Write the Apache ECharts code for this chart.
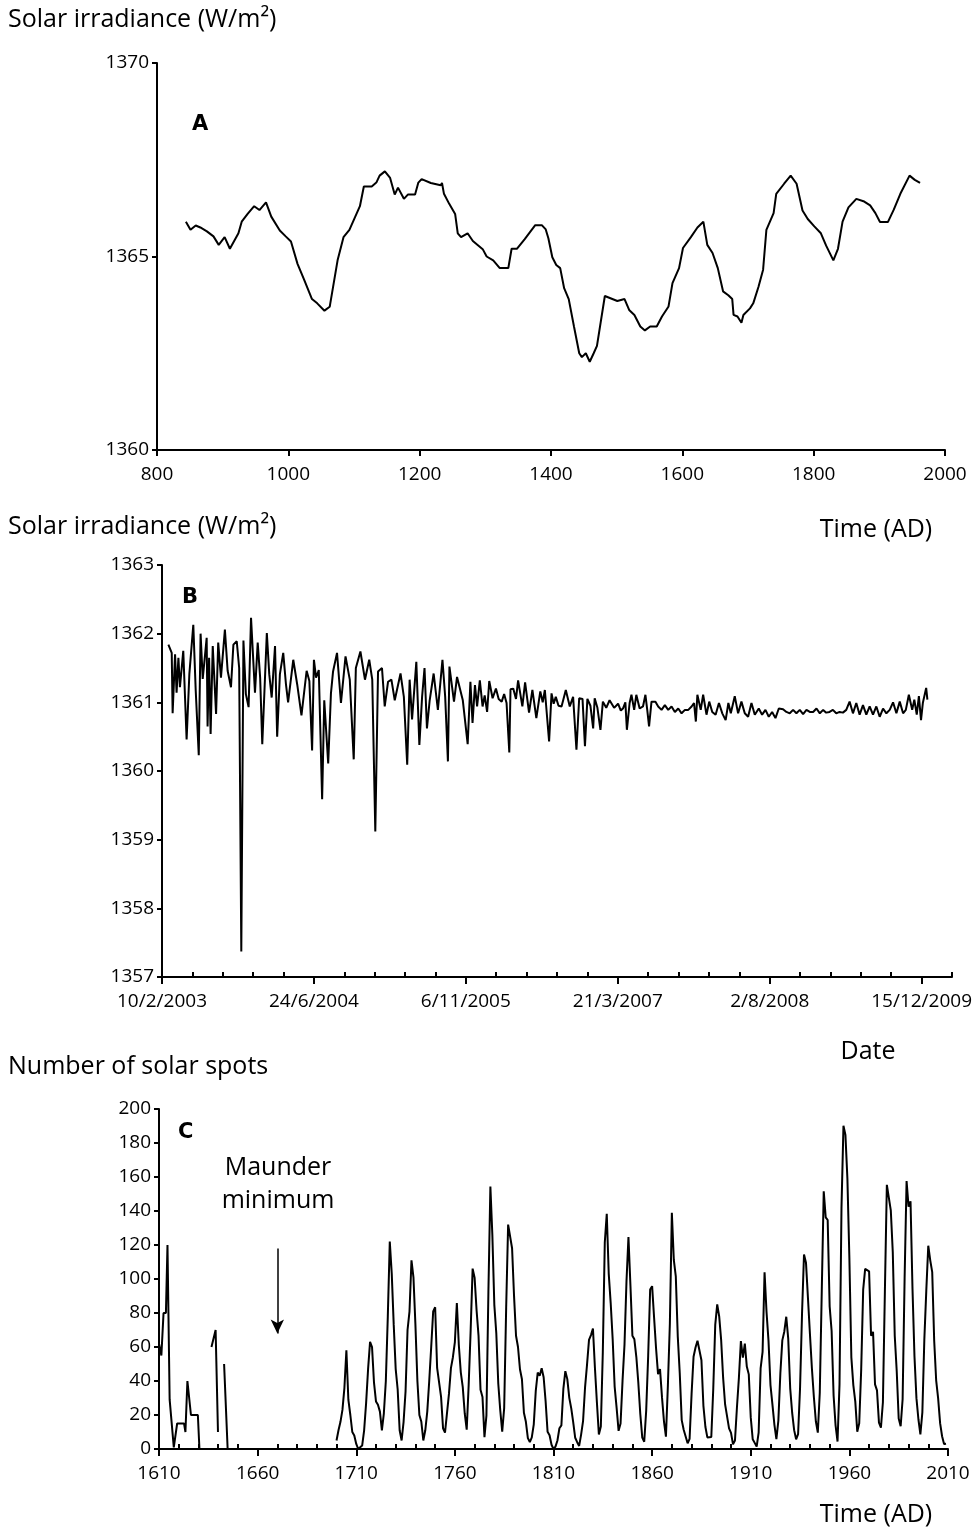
<!DOCTYPE html>
<html><head><meta charset="utf-8">
<script src="https://cdn.jsdelivr.net/npm/echarts@6/dist/echarts.min.js"></script>
<style>html,body{margin:0;padding:0;background:#fff}#c{width:978px;height:1537px}</style>
</head><body><div id="c"></div>
<script>
// ---------- Panel A: reconstructed solar irradiance (AD) ----------
const aYears = [844,851,859,866,876,886,894,903,911,924,929,938,948,956,966,974,987,996,1004,1014,1024,1036,1044,1055,1063,1075,1084,1093,1109,1115,1127,1134,1139,1147,1155,1162,1167,1176,1182,1193,1198,1203,1217,1232,1234,1237,1245,1254,1258,1263,1273,1281,1296,1302,1312,1322,1335,1340,1348,1360,1376,1386,1392,1396,1402,1408,1414,1420,1427,1435,1443,1447,1453,1459,1465,1470,1482,1501,1512,1519,1527,1536,1543,1551,1561,1569,1579,1585,1595,1601,1613,1623,1632,1638,1646,1654,1662,1670,1676,1678,1684,1690,1693,1703,1708,1716,1723,1728,1739,1743,1755,1765,1774,1783,1791,1801,1811,1819,1830,1837,1844,1853,1865,1877,1886,1894,1901,1913,1922,1932,1946,1954,1962];
const aValues = [1365.9,1365.69,1365.8,1365.75,1365.65,1365.52,1365.3,1365.5,1365.2,1365.6,1365.9,1366.1,1366.3,1366.2,1366.4,1366.03,1365.67,1365.52,1365.39,1364.81,1364.4,1363.9,1363.79,1363.6,1363.7,1364.9,1365.5,1365.69,1366.3,1366.81,1366.81,1366.91,1367.09,1367.2,1367.03,1366.6,1366.78,1366.49,1366.6,1366.6,1366.91,1367.0,1366.9,1366.84,1366.9,1366.62,1366.36,1366.1,1365.6,1365.5,1365.6,1365.4,1365.19,1365.0,1364.9,1364.7,1364.7,1365.2,1365.2,1365.45,1365.81,1365.81,1365.7,1365.47,1364.98,1364.78,1364.7,1364.18,1363.9,1363.19,1362.5,1362.4,1362.5,1362.28,1362.5,1362.69,1363.98,1363.85,1363.9,1363.62,1363.49,1363.19,1363.09,1363.19,1363.19,1363.45,1363.71,1364.31,1364.7,1365.22,1365.5,1365.75,1365.9,1365.3,1365.09,1364.7,1364.1,1364.0,1363.9,1363.49,1363.45,1363.29,1363.49,1363.66,1363.79,1364.22,1364.66,1365.69,1366.12,1366.62,1366.88,1367.09,1366.88,1366.19,1365.97,1365.78,1365.6,1365.28,1364.9,1365.2,1365.9,1366.27,1366.49,1366.42,1366.32,1366.12,1365.89,1365.89,1366.21,1366.62,1367.09,1366.98,1366.9];

// ---------- Panel B: measured TSI, x = days after 10/2/2003 ----------
const bDays = [21,32,35,43,48,54,59,70,81,90,103,111,121,127,134,147,150,155,160,167,178,185,194,207,216,227,235,246,254,261,268,276,285,293,306,315,323,330,345,353,361,372,379,388,399,408,415,432,445,459,476,485,494,500,507,516,527,534,547,556,563,576,589,604,618,631,638,653,668,682,692,702,711,724,733,744,755,766,785,796,807,815,823,837,847,856,864,872,881,894,908,923,932,941,946,961,971,990,1006,1015,1022,1030,1037,1046,1055,1062,1070,1077,1088,1099,1108,1118,1126,1134,1143,1147,1156,1165,1172,1186,1195,1208,1219,1232,1245,1253,1260,1274,1282,1289,1296,1305,1315,1322,1329,1342,1353,1364,1373,1384,1392,1400,1410,1419,1424,1433,1443,1451,1462,1473,1488,1501,1510,1517,1525,1530,1539,1545,1554,1561,1572,1583,1591,1597,1603,1611,1624,1633,1644,1655,1666,1677,1688,1699,1710,1721,1732,1743,1751,1757,1762,1773,1781,1792,1801,1811,1822,1833,1844,1855,1864,1872,1885,1896,1907,1918,1929,1940,1951,1964,1975,1986,1997,2008,2019,2030,2044,2055,2066,2077,2088,2099,2110,2121,2132,2143,2154,2165,2176,2186,2197,2208,2219,2230,2241,2252,2263,2274,2285,2296,2307,2318,2329,2340,2351,2362,2373,2384,2395,2406,2417,2428,2439,2448,2458,2469,2476,2484,2491,2498,2504,2509,2515,2519];
const bValues = [1361.84,1361.72,1360.84,1361.70,1361.14,1361.65,1361.22,1361.75,1360.46,1361.41,1362.13,1361.17,1360.23,1362.00,1361.34,1361.94,1360.65,1361.65,1360.54,1361.82,1360.83,1361.87,1361.36,1362.06,1361.46,1361.22,1361.84,1361.89,1361.50,1357.37,1361.90,1361.12,1360.93,1362.23,1361.14,1361.87,1361.36,1360.39,1362.01,1361.41,1361.07,1361.82,1360.50,1361.41,1361.72,1361.26,1361.00,1361.62,1361.26,1360.81,1361.46,1361.31,1360.30,1361.62,1361.36,1361.47,1359.59,1361.03,1360.11,1361.13,1361.45,1361.72,1360.99,1361.67,1361.33,1360.17,1361.50,1361.74,1361.33,1361.62,1361.33,1359.12,1361.45,1361.50,1360.94,1361.30,1361.33,1361.03,1361.42,1361.08,1360.09,1361.33,1360.75,1361.59,1360.38,1361.08,1361.50,1360.62,1361.03,1361.42,1360.89,1361.62,1361.08,1360.14,1361.52,1361.01,1361.37,1361.03,1360.39,1361.30,1360.70,1361.25,1360.94,1361.32,1360.94,1361.10,1360.86,1361.31,1361.06,1361.20,1361.05,1361.01,1361.12,1360.99,1360.27,1361.19,1361.20,1361.05,1361.32,1360.94,1361.29,1360.85,1361.18,1360.77,1361.16,1361.00,1361.18,1360.43,1361.13,1360.98,1361.08,1360.95,1360.94,1361.06,1361.18,1360.94,1361.08,1360.31,1361.06,1361.05,1360.36,1361.05,1360.95,1360.62,1361.06,1360.92,1360.60,1361.01,1360.92,1361.03,1360.92,1360.98,1360.88,1360.91,1361.00,1360.60,1360.99,1361.11,1360.89,1361.11,1360.91,1360.94,1361.11,1360.89,1360.65,1361.01,1361.01,1360.94,1360.89,1360.96,1360.89,1360.94,1360.86,1360.91,1360.84,1360.89,1360.89,1360.94,1360.99,1360.72,1361.11,1360.89,1361.11,1360.82,1361.01,1360.86,1360.82,1360.99,1360.84,1360.74,1360.99,1360.84,1361.09,1360.84,1361.01,1360.84,1360.79,1360.99,1360.82,1360.91,1360.82,1360.89,1360.79,1360.86,1360.77,1360.91,1360.90,1360.86,1360.84,1360.89,1360.84,1360.89,1360.83,1360.89,1360.86,1360.86,1360.91,1360.84,1360.89,1360.85,1360.86,1360.89,1360.84,1360.86,1360.85,1360.89,1361.01,1360.84,1360.99,1360.82,1360.96,1360.82,1360.94,1360.82,1360.94,1360.79,1360.91,1360.84,1360.89,1361.00,1360.84,1361.01,1360.84,1360.89,1361.11,1360.89,1361.04,1360.82,1361.09,1360.74,1360.99,1361.09,1361.21,1361.04];
const bTickDays = [0,500,1000,1500,2000,2500];
const bDateLabels = ['10/2/2003','24/6/2004','6/11/2005','21/3/2007','2/8/2008','15/12/2009'];
const bMinorDays = [100,200,300,400,600,700,800,900,1100,1200,1300,1400,1600,1700,1800,1900,2100,2200,2300,2400,2600];

// ---------- Panel C: number of sunspots ----------
const cEarlyYears  = [1610,1611.2,1612.3,1613.5,1614.3,1615.4,1617.5,1618.2,1619.2,1622.7,1623.4,1624.4,1626.2,1629.7,1630.5, 1633, 1636.6,1638.7,1639.9, 1641, 1643,1644.8, 1670];
const cEarlyValues = [62,55,80,80,120,29,1,0,15,15,10,40,20,20,0, null, 60,70,10, null, 50,0, null];
const cStartYear = 1700;
const cValues = [5,11,16,23,36,58,29,20,10,8,3,0,0,2,11,27,47,63,60,39,28,26,22,11,21,40,78,122,103,73,47,35,11,5,16,34,70,81,111,101,73,40,20,16,5,11,22,40,60,80.9,83.4,47.7,47.8,30.7,12.2,9.6,10.2,32.4,47.6,54,62.9,85.9,61.2,45.1,36.4,20.9,11.4,37.8,69.8,106.1,100.8,81.6,66.5,34.8,30.6,7,19.8,92.5,154.4,125.9,84.8,68.1,38.5,22.8,10.2,24.1,82.9,132,130.9,118.1,89.9,66.6,60,46.9,41,21.3,16,6.4,4.1,6.8,14.5,34,45,43.1,47.5,42.2,28.1,10.1,8.1,2.5,0,1.4,5,12.2,13.9,35.4,45.8,41.1,30.1,23.9,15.6,6.6,4,1.8,8.5,16.6,36.3,49.6,64.2,67,70.9,47.8,27.5,8.5,13.2,56.9,121.5,138.3,103.2,85.7,64.6,36.7,24.2,10.7,15,40.1,61.5,98.5,124.7,96.3,66.6,64.5,54.1,39,20.6,6.7,4.3,22.7,54.8,93.8,95.8,77.2,59.1,44,47,30.5,16.3,7.3,37.6,74,139,111.2,101.6,66.2,44.7,17,11.3,12.4,3.4,6,32.3,54.3,59.7,63.7,63.5,52.2,25.4,13.1,6.8,6.3,7.1,35.6,73,85.1,78,64,41.8,26.2,26.7,12.1,9.5,2.7,5,24.4,42,63.5,53.8,62,48.5,43.9,18.6,5.7,3.6,1.4,9.6,47.4,57.1,103.9,80.6,63.6,37.6,26.1,14.2,5.8,16.7,44.3,63.9,69,77.8,64.9,35.7,21.2,11.1,5.7,8.7,36.1,79.7,114.4,109.6,88.8,67.8,47.5,30.6,16.3,9.6,33.2,92.6,151.6,136.3,134.7,83.9,69.4,31.5,13.9,4.4,38,141.7,190.2,184.8,159,112.3,53.9,37.6,27.9,10.2,15.1,47,93.8,105.9,105.5,104.5,66.6,68.9,38,34.5,15.5,12.6,27.5,92.5,155.4,154.6,140.4,115.9,66.6,45.9,17.9,13.4,29.4,100.2,157.6,142.6,145.7,94.3,54.6,29.9,17.5,8.6,21.5,64.3,93.3,119.6,111,104,63.7,40.4,29.8,15.2,7.5,2.9,3.1];
const cTickYears = [1610,1660,1710,1760,1810,1860,1910,1960,2010];
const cMinorYears = [1620,1630,1640,1650,1670,1680,1690,1700,1720,1730,1740,1750,1770,1780,1790,1800,1820,1830,1840,1850,1870,1880,1890,1900,1920,1930,1940,1950,1970,1980,1990,2000];
const maunderArrow = [[1670,118],[1670,68]];

// ---------- build ----------
const FONT = '"Open Sans", "Noto Sans", sans-serif';
const black = '#000';
const aData = aYears.map((y,i)=>[y,aValues[i]]);
const bData = bDays.map((d,i)=>[d,bValues[i]]);
const cData = cEarlyYears.map((y,i)=>[y, cEarlyValues[i]===null ? '-' : cEarlyValues[i]])
  .concat(cValues.map((v,i)=>[cStartYear+i, v]));

const axisLine = {show:true, lineStyle:{color:black, width:2}};
const plain = (v)=>String(v);
const lbl = (extra)=>Object.assign({color:black, fontSize:19, fontFamily:FONT, formatter:plain}, extra||{});
const TS = 25;

const chart = echarts.init(document.getElementById('c'), null, {renderer:'canvas'});
chart.setOption({
  animation:false,
  backgroundColor:'#fff',
  grid:[
    {left:157, top:63, width:788, height:387, outerBoundsMode:'none'},
    {left:162, top:565, width:790, height:412, outerBoundsMode:'none'},
    {left:159, top:1109, width:789, height:340, outerBoundsMode:'none'}
  ],
  xAxis:[
    {gridIndex:0, type:'value', min:800, max:2000, interval:200, splitLine:{show:false}, axisLine,
     axisTick:{show:true, length:6, lineStyle:{color:black,width:2}}, axisLabel:lbl({margin:15})},
    {gridIndex:1, type:'value', position:'bottom', min:0, max:2600, splitLine:{show:false}, axisLine,
     axisTick:{show:true, length:7, customValues:bTickDays, lineStyle:{color:black,width:2}},
     axisLabel:lbl({margin:15, customValues:bTickDays, formatter:(v)=>bDateLabels[Math.round(v/500)]})},
    {gridIndex:1, type:'value', position:'bottom', min:0, max:2600, splitLine:{show:false}, axisLine:{show:false},
     axisTick:{show:true, inside:true, length:5, customValues:bMinorDays, lineStyle:{color:black,width:2}},
     axisLabel:{show:false}},
    {gridIndex:2, type:'value', position:'bottom', min:1610, max:2010, splitLine:{show:false}, axisLine,
     axisTick:{show:true, length:7, customValues:cTickYears, lineStyle:{color:black,width:2}},
     axisLabel:lbl({margin:15, customValues:cTickYears})},
    {gridIndex:2, type:'value', position:'bottom', min:1610, max:2010, splitLine:{show:false}, axisLine:{show:false},
     axisTick:{show:true, inside:true, length:5, customValues:cMinorYears, lineStyle:{color:black,width:2}},
     axisLabel:{show:false}}
  ],
  yAxis:[
    {gridIndex:0, type:'value', min:1360, max:1370, interval:5, splitLine:{show:false}, axisLine,
     axisTick:{show:true, length:5, lineStyle:{color:black,width:2}}, axisLabel:lbl({margin:8})},
    {gridIndex:1, type:'value', min:1357, max:1363, interval:1, splitLine:{show:false}, axisLine,
     axisTick:{show:true, length:5, lineStyle:{color:black,width:2}}, axisLabel:lbl({margin:8})},
    {gridIndex:2, type:'value', min:0, max:200, interval:20, splitLine:{show:false}, axisLine,
     axisTick:{show:true, length:5, lineStyle:{color:black,width:2}}, axisLabel:lbl({margin:8})}
  ],
  series:[
    {type:'line', xAxisIndex:0, yAxisIndex:0, data:aData, showSymbol:false, symbol:'none',
     lineStyle:{color:black, width:2}, silent:true},
    {type:'line', xAxisIndex:1, yAxisIndex:1, data:bData, showSymbol:false, symbol:'none',
     lineStyle:{color:black, width:2}, silent:true},
    {type:'line', xAxisIndex:3, yAxisIndex:2, data:cData, showSymbol:false, symbol:'none', connectNulls:false,
     lineStyle:{color:black, width:2}, silent:true,
     markLine:{silent:true, symbol:['none','arrow'], symbolSize:[10,14], label:{show:false},
       lineStyle:{color:black, width:1.5, type:'solid'}, emphasis:{disabled:true},
       data:[[{coord:maunderArrow[0]},{coord:maunderArrow[1]}]]}}
  ],
  graphic:[
    {type:'text', x:8, y:20, style:{text:'Solar irradiance (W/m²)', fontSize:TS, fontFamily:FONT, fill:black, verticalAlign:'middle'}},
    {type:'text', x:192, y:125, style:{text:'A', fontSize:21, fontWeight:'bold', fontFamily:'"DejaVu Sans"', fill:black, verticalAlign:'middle'}},
    {type:'text', x:876, y:530, style:{text:'Time (AD)', fontSize:TS, fontFamily:FONT, fill:black, align:'center', verticalAlign:'middle'}},
    {type:'text', x:8, y:527, style:{text:'Solar irradiance (W/m²)', fontSize:TS, fontFamily:FONT, fill:black, verticalAlign:'middle'}},
    {type:'text', x:182, y:598, style:{text:'B', fontSize:21, fontWeight:'bold', fontFamily:'"DejaVu Sans"', fill:black, verticalAlign:'middle'}},
    {type:'text', x:868, y:1052, style:{text:'Date', fontSize:TS, fontFamily:FONT, fill:black, align:'center', verticalAlign:'middle'}},
    {type:'text', x:8, y:1067, style:{text:'Number of solar spots', fontSize:TS, fontFamily:FONT, fill:black, verticalAlign:'middle'}},
    {type:'text', x:178, y:1133, style:{text:'C', fontSize:21, fontWeight:'bold', fontFamily:'"DejaVu Sans"', fill:black, verticalAlign:'middle'}},
    {type:'text', x:278, y:1168, style:{text:'Maunder', fontSize:TS, fontFamily:FONT, fill:black, align:'center', verticalAlign:'middle'}},
    {type:'text', x:278, y:1201, style:{text:'minimum', fontSize:TS, fontFamily:FONT, fill:black, align:'center', verticalAlign:'middle'}},
    {type:'text', x:876, y:1515, style:{text:'Time (AD)', fontSize:TS, fontFamily:FONT, fill:black, align:'center', verticalAlign:'middle'}}
  ]
});
</script>
</body></html>
